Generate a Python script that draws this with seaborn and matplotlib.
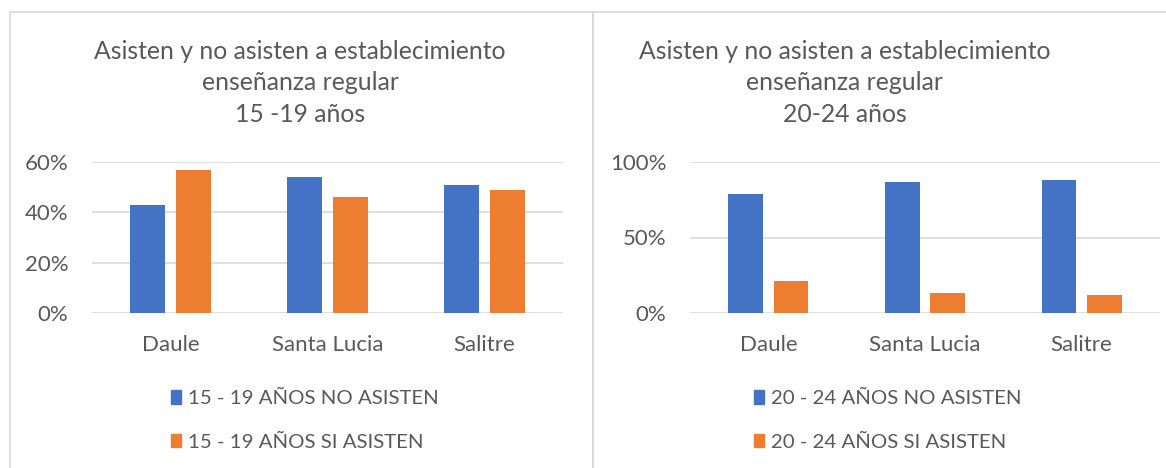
import pandas as pd
import matplotlib.pyplot as plt
import seaborn as sns
from matplotlib.patches import Rectangle
from matplotlib.ticker import PercentFormatter

cantones = ["Daule", "Santa Lucia", "Salitre"]
no_asisten_15_19 = [43, 54, 51]
si_asisten_15_19 = [57, 46, 49]
no_asisten_20_24 = [79, 87, 88]
si_asisten_20_24 = [21, 13, 12]

series_15 = ["15 - 19 AÑOS NO ASISTEN", "15 - 19 AÑOS SI ASISTEN"]
series_20 = ["20 - 24 AÑOS NO ASISTEN", "20 - 24 AÑOS SI ASISTEN"]
titulo_15 = "Asisten y no asisten a establecimiento\nenseñanza regular\n15 -19 años"
titulo_20 = "Asisten y no asisten a establecimiento\nenseñanza regular\n20-24 años"

colores = ["#4472C4", "#ED7D31"]
gris_txt = "#595959"
gris_lin = "#D9D9D9"

sns.set_theme(style="white")
plt.rcParams['font.family'] = ['Lato', 'DejaVu Sans']

df15 = pd.DataFrame({
    "canton": cantones * 2,
    "valor": no_asisten_15_19 + si_asisten_15_19,
    "serie": [series_15[0]] * 3 + [series_15[1]] * 3,
})
df20 = pd.DataFrame({
    "canton": cantones * 2,
    "valor": no_asisten_20_24 + si_asisten_20_24,
    "serie": [series_20[0]] * 3 + [series_20[1]] * 3,
})

fig = plt.figure(figsize=(11.66, 4.68), dpi=100)

# bordes de los dos paneles
fig.patches.append(Rectangle((10 / 1166, -0.1), 583 / 1166, 1 - 12 / 468 + 0.1,
                             transform=fig.transFigure, fill=False, ec=gris_lin, lw=1.2))
fig.patches.append(Rectangle((593 / 1166, -0.1), 0.6, 1 - 12 / 468 + 0.1,
                             transform=fig.transFigure, fill=False, ec=gris_lin, lw=1.2))

ax1 = fig.add_axes([92 / 1166, 1 - 313 / 468, 471 / 1166, 151 / 468])
ax2 = fig.add_axes([690 / 1166, 1 - 313 / 468, 470 / 1166, 151 / 468])

configs = [
    (ax1, df15, series_15, titulo_15, [0, 20, 40, 60], 60, 300, 0.168),
    (ax2, df20, series_20, titulo_20, [0, 50, 100], 100, 845, 0.136),
]

for ax, df, series, titulo, ticks, top, cx, lx in configs:
    sns.barplot(data=df, x="canton", y="valor", hue="serie", hue_order=series,
                palette=colores, width=0.58, gap=0.24, ax=ax, legend=False,
                saturation=1, edgecolor="none")
    ax.set_ylim(0, top)
    ax.set_xlim(-0.5, 2.5)
    ax.set_yticks(ticks)
    ax.yaxis.set_major_formatter(PercentFormatter(decimals=0))
    ax.grid(axis="y", color=gris_lin, lw=1.2)
    ax.set_axisbelow(True)
    for s in ax.spines.values():
        s.set_visible(False)
    ax.set_xlabel("")
    ax.set_ylabel("")
    ax.tick_params(axis="y", labelsize=16, labelcolor=gris_txt, pad=17, length=0)
    ax.tick_params(axis="x", labelsize=16, labelcolor=gris_txt, pad=16, length=0)

    fig.text(cx / 1166, 1 - 83 / 468, titulo, ha="center", va="center",
             fontsize=17.8, color=gris_txt, linespacing=1.45)

    handles = [Rectangle((0, 0), 1, 1, color=c) for c in colores]
    ax.legend(handles, series, loc="center left", bbox_to_anchor=(lx, -0.71),
              frameon=False, fontsize=14.7, labelcolor=gris_txt, borderpad=0,
              borderaxespad=0, handlelength=0.5, handleheight=0.65,
              handletextpad=0.35, labelspacing=1.3)

fig.savefig("out.png", dpi=100)
